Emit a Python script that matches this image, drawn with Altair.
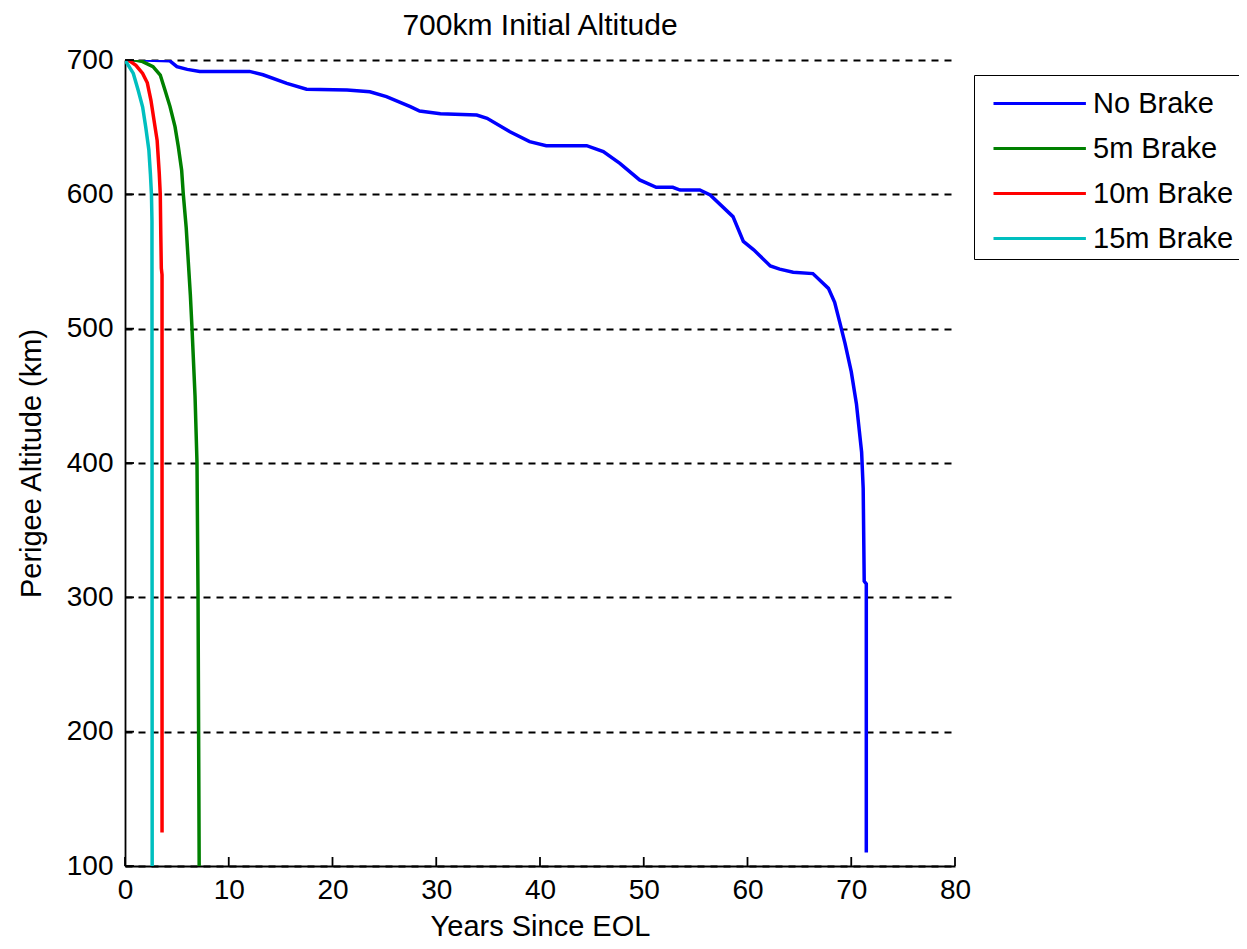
import altair as alt
import pandas as pd

series_names = ["No Brake", "5m Brake", "10m Brake", "15m Brake"]
series_colors = ["#0000FF", "#008000", "#FF0000", "#00BFBF"]

no_brake_years = [0, 2.0, 4.3, 5.0, 6.0, 7.2, 12.0, 13.3, 15.6, 17.5, 21.4, 23.6, 25.2, 27.5,
                  28.4, 30.4, 33.9, 34.9, 37.1, 39.0, 40.6, 44.5, 46.1, 47.7, 49.6, 51.2, 52.8,
                  53.5, 55.4, 56.4, 58.6, 59.6, 60.6, 62.2, 63.1, 64.4, 66.3, 67.8, 68.4, 68.9,
                  69.4, 70.0, 70.5, 70.75, 71.0, 71.15, 71.25, 71.45, 71.45]
no_brake_alt = [700, 700, 699.5, 695, 693, 691.5, 691.5, 689, 682.6, 678.2, 677.7, 676.4, 672.7,
                665.3, 662, 660, 659, 656.6, 646.6, 639.2, 636.2, 636.2, 631.8, 623.1, 610.7,
                605.2, 605.2, 603.2, 603.2, 599.5, 583.4, 565, 558.7, 546.7, 544.3, 542, 541,
                530, 519.6, 504.5, 489, 468, 444, 426, 408, 381, 312, 310, 110]

brake5_years = [0, 1.0, 1.7, 2.7, 3.4, 3.85, 4.34, 4.82, 5.14, 5.46, 5.62, 5.9, 6.1, 6.3, 6.46,
                6.75, 6.94, 7.04, 7.15]
brake5_alt = [700, 700, 698.8, 695, 688.8, 677.7, 665.3, 650.4, 635.5, 618, 600, 575, 550, 525,
              500, 450, 400, 300, 100]

brake10_years = [0, 0.5, 1.05, 1.7, 2.15, 2.5, 2.8, 3.1, 3.3, 3.4, 3.45, 3.5, 3.57, 3.57]
brake10_alt = [700, 699, 696, 690, 683, 670, 655, 640, 616, 600, 570, 545, 540, 125]

brake15_years = [0, 0.8, 1.25, 1.7, 2.0, 2.3, 2.45, 2.55, 2.6, 2.62]
brake15_alt = [700, 690, 678, 665, 650, 633, 615, 600, 580, 100]

x_ticks = [0, 10, 20, 30, 40, 50, 60, 70, 80]
y_ticks = [100, 200, 300, 400, 500, 600, 700]

rows = []
for name, xs, ys in [
    ("No Brake", no_brake_years, no_brake_alt),
    ("5m Brake", brake5_years, brake5_alt),
    ("10m Brake", brake10_years, brake10_alt),
    ("15m Brake", brake15_years, brake15_alt),
]:
    for i, (xv, yv) in enumerate(zip(xs, ys)):
        rows.append({"series": name, "years": xv, "alt": yv, "idx": i})
df = pd.DataFrame(rows)

FONT = "Liberation Sans"
W, H = 830, 806

x_scale = alt.Scale(domain=[0, 80], nice=False, zero=False)
y_scale = alt.Scale(domain=[100, 700], nice=False, zero=False)

x_axis = alt.Axis(title="Years Since EOL", values=x_ticks, grid=False, ticks=False,
                  tickSize=0, labelPadding=10, labelFlush=False,
                  labelFont=FONT, labelFontSize=28, labelColor="#000000",
                  titleFont=FONT, titleFontSize=29, titleFontWeight="normal",
                  titleColor="#000000",
                  domainColor="#000000", domainWidth=1.8,
                  titleX=415, titleY=69, titleBaseline="alphabetic",
                  titleAlign="center", titleAnchor="middle")
y_axis = alt.Axis(title="Perigee Altitude (km)", values=y_ticks, grid=True,
                  gridDash=[7, 6], gridColor="#000000", gridWidth=1.8,
                  ticks=False, tickSize=0, labelPadding=12, labelFlush=False,
                  labelFont=FONT, labelFontSize=28, labelColor="#000000",
                  titleFont=FONT, titleFontSize=29, titleFontWeight="normal",
                  titleColor="#000000",
                  domainColor="#000000", domainWidth=1.8,
                  titleX=-85, titleY=403, titleAngle=270,
                  titleBaseline="alphabetic", titleAlign="center")

lines = alt.Chart(df).mark_line(strokeWidth=3.5, clip=True).encode(
    x=alt.X("years:Q", scale=x_scale, axis=x_axis),
    y=alt.Y("alt:Q", scale=y_scale, axis=y_axis),
    color=alt.Color("series:N",
                    scale=alt.Scale(domain=series_names, range=series_colors),
                    legend=alt.Legend(title=None, orient="none", legendX=849, legendY=15,
                                      strokeColor="#000000", fillColor="#FFFFFF", padding=5,
                                      symbolType="M-1,0H3.2", symbolSize=1936,
                                      symbolStrokeWidth=3, symbolOffset=13, labelOffset=54,
                                      labelFontSize=29, labelFont=FONT, labelColor="#000000",
                                      rowPadding=6, labelBaseline="middle", labelLimit=600,
                                      labelExpr="datum.label + '          '")),
    order=alt.Order("idx:Q"),
    detail="series:N",
)

xt_df = pd.DataFrame({"years": x_ticks})
yt_df = pd.DataFrame({"alt": y_ticks})

x_tick_marks = alt.Chart(xt_df).mark_rule(color="#000000", strokeWidth=1.8).encode(
    x=alt.X("years:Q", scale=x_scale, axis=x_axis),
    y=alt.value(H),
    y2=alt.value(H - 9),
)
y_tick_marks = alt.Chart(yt_df).mark_rule(color="#000000", strokeWidth=1.8).encode(
    y=alt.Y("alt:Q", scale=y_scale, axis=y_axis),
    x=alt.value(0),
    x2=alt.value(9),
)

chart = alt.layer(lines, x_tick_marks, y_tick_marks).properties(
    width=W,
    height=H,
    background="#FFFFFF",
    title=alt.TitleParams("700km Initial Altitude", fontSize=30, font=FONT,
                          fontWeight="normal", color="#000000", anchor="middle",
                          baseline="alphabetic", offset=0, dy=19),
    autosize=alt.AutoSizeParams(type="none"),
    padding={"left": 117, "top": 52, "right": 284, "bottom": 75},
).configure_view(strokeOpacity=0, strokeWidth=0)

chart.save("out.html", embed_options={"renderer": "svg", "actions": False})
